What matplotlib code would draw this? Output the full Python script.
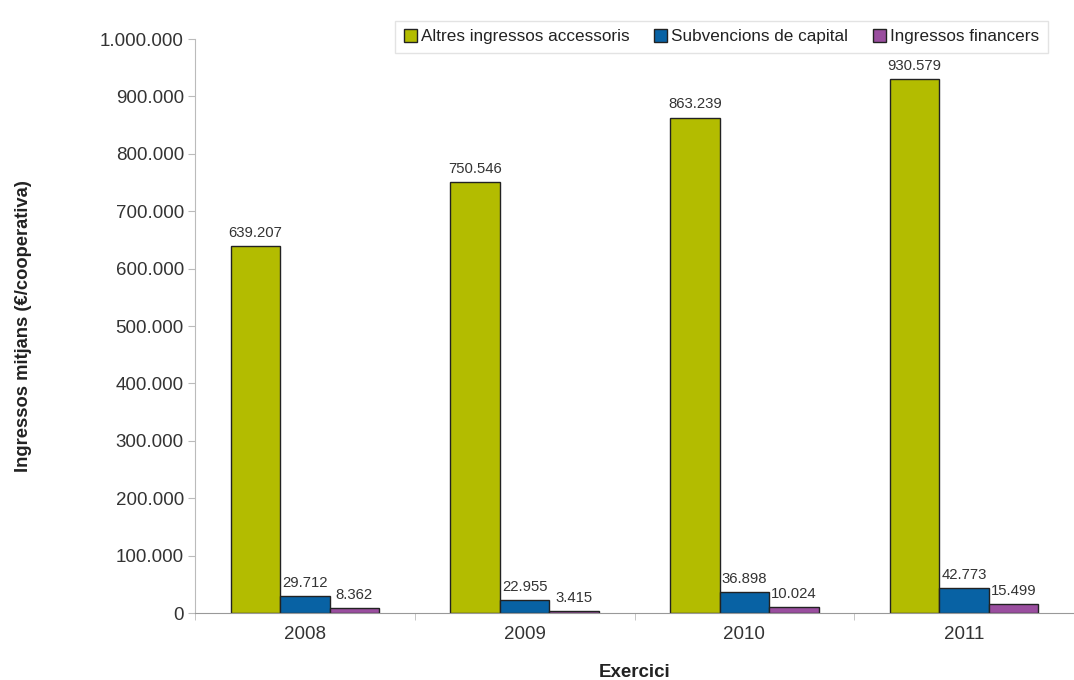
import matplotlib
matplotlib.use("Agg")
import matplotlib.pyplot as plt
import numpy as np

years = ["2008", "2009", "2010", "2011"]
series_names = ["Altres ingressos accessoris", "Subvencions de capital", "Ingressos financers"]
altres = [639207, 750546, 863239, 930579]
subvencions = [29712, 22955, 36898, 42773]
financers = [8362, 3415, 10024, 15499]
colors = ["#B3BC00", "#0862A4", "#9A4E9F"]

def fmt(v):
    return f"{v:,.0f}".replace(",", ".")

plt.rcParams['font.family'] = ['Liberation Sans', 'DejaVu Sans']
fig = plt.figure(figsize=(10.74, 6.8), dpi=100)
ax = fig.add_axes([0.1816, 0.0985, 0.8184, 0.8441])

x = np.arange(len(years))
w = 0.225
for i, (vals, name, c) in enumerate(zip([altres, subvencions, financers], series_names, colors)):
    pos = x + (i - 1) * w
    ax.bar(pos, vals, w, color=c, edgecolor="#222222", linewidth=1.0, label=name)
    for p, v in zip(pos, vals):
        ax.text(p, v + 11000, fmt(v), ha="center", va="bottom", fontsize=10.7, color="#333333")

ax.set_xlim(-0.5, 3.47)
ax.set_ylim(0, 1000000)
ax.set_yticks(np.arange(0, 1000001, 100000))
ax.set_yticklabels([fmt(v) for v in np.arange(0, 1000001, 100000)], fontsize=13.5, color="#333333")
ax.set_xticks(x)
ax.set_xticklabels(years, fontsize=13.5, color="#333333")
ax.set_xticks(np.arange(-0.5, 3.6, 1), minor=True)
ax.tick_params(axis="x", which="major", length=0, pad=9)
ax.tick_params(axis="x", which="minor", length=5, color="#bbbbbb")
ax.tick_params(axis="y", length=5, color="#bbbbbb", pad=3)
for s in ["top", "right"]:
    ax.spines[s].set_visible(False)
ax.spines["left"].set_color("#bbbbbb")
ax.spines["bottom"].set_color("#999999")

ax.set_ylabel("Ingressos mitjans (€/cooperativa)", fontsize=13.2, fontweight="bold", color="#222222")
ax.yaxis.set_label_coords(-0.185, 0.5)
ax.set_xlabel("Exercici", fontsize=13.5, fontweight="bold", color="#222222")
ax.xaxis.set_label_coords(0.5, -0.089)

leg = ax.legend(loc="upper right", bbox_to_anchor=(0.98, 1.047), ncol=3, fontsize=12.3,
                frameon=True, fancybox=False, edgecolor="#dddddd", handlelength=0.75,
                handleheight=0.75, handletextpad=0.25, columnspacing=1.45, borderpad=0.5)
for t in leg.get_texts():
    t.set_color("#222222")

fig.savefig("out.png", dpi=100)
